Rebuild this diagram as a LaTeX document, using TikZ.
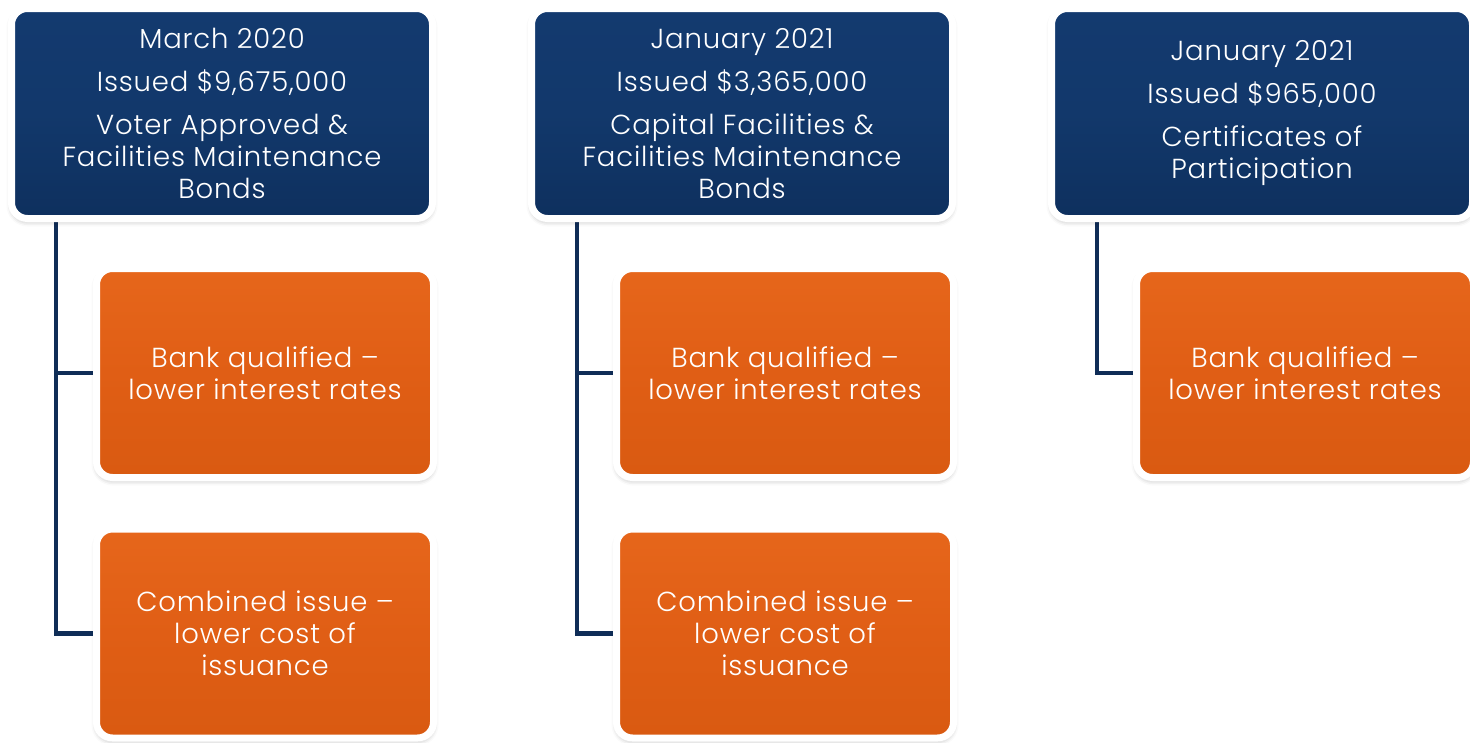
\documentclass[tikz,border=0pt]{standalone}
\usepackage{fontspec}
\setmainfont{Poppins Light}[LetterSpace=3]
\usetikzlibrary{shadows.blur,backgrounds}
\definecolor{navy}{HTML}{12386B}
\definecolor{navytop}{HTML}{133A6F}
\definecolor{navybot}{HTML}{0E305E}
\definecolor{linkblue}{HTML}{0F2D57}
\definecolor{orange}{HTML}{E05E15}
\definecolor{orangetop}{HTML}{E6661B}
\definecolor{orangebot}{HTML}{D95A11}
\tikzset{
  boxbase/.style={draw=white, line width=7pt, rounded corners=16pt,
    text=white, align=center, inner sep=0pt,
    blur shadow={shadow xshift=0pt, shadow yshift=-3pt,
      shadow blur radius=5pt, shadow opacity=30}},
  headbox/.style={boxbase, top color=navytop, bottom color=navybot,
    middle color=navy, minimum width=421pt, minimum height=210pt,
    font=\fontsize{27.5}{32}\selectfont},
  leafbox/.style={boxbase, top color=orangetop, bottom color=orangebot,
    middle color=orange, minimum width=337pt, minimum height=209pt,
    font=\fontsize{27.5}{32}\selectfont},
  link/.style={draw=linkblue, line width=4.5pt}
}
\begin{document}
\begin{tikzpicture}[x=1pt,y=-1pt]
\useasboundingbox (0,0) rectangle (1470,742);

% headers
\node[headbox] (h1) at (222,113.5) {March 2020\\[11pt]Issued \$9,675,000\\[11pt]Voter Approved \&\\Facilities Maintenance\\Bonds};
\node[headbox] (h2) at (742,113.5) {January 2021\\[11pt]Issued \$3,365,000\\[11pt]Capital Facilities \&\\Facilities Maintenance\\Bonds};
\node[headbox] (h3) at (1262,113.5) {January 2021\\[11pt]Issued \$965,000\\[11pt]Certificates of\\Participation};

% benefits
\node[leafbox] (a1) at (265,373) {Bank qualified --\\lower interest rates};
\node[leafbox] (c1) at (265,633.5) {Combined issue --\\lower cost of\\issuance};
\node[leafbox] (a2) at (785,373) {Bank qualified --\\lower interest rates};
\node[leafbox] (c2) at (785,633.5) {Combined issue --\\lower cost of\\issuance};
\node[leafbox] (a3) at (1305,373) {Bank qualified --\\lower interest rates};

% tree connectors
\coordinate (s1) at (56,218);
\coordinate (s2) at (577,218);
\coordinate (s3) at (1097,218);
\begin{scope}[on background layer]
  \draw[link] (s1) |- (a1.west);
  \draw[link] (s1) |- (c1.west);
  \draw[link] (s2) |- (a2.west);
  \draw[link] (s2) |- (c2.west);
  \draw[link] (s3) |- (a3.west);
\end{scope}
\end{tikzpicture}
\end{document}
